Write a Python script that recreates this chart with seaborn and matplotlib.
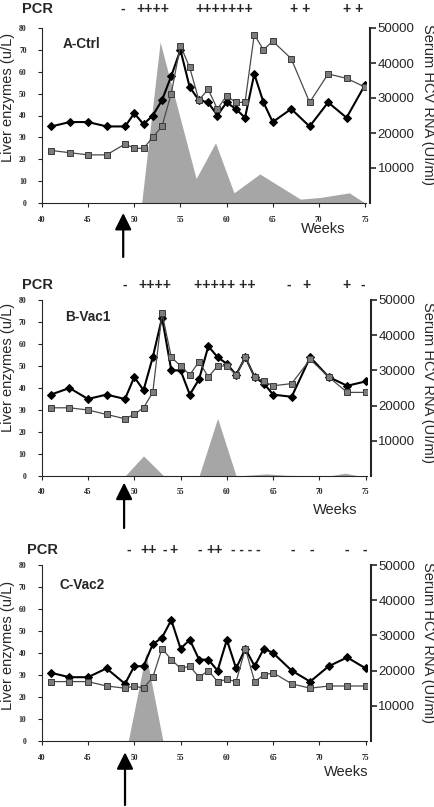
import matplotlib
matplotlib.use("Agg")
import matplotlib.pyplot as plt
import seaborn as sns

# ---------------- data ----------------
weeks = [41, 43, 45, 47, 49, 50, 51, 52, 53, 54, 55, 56, 57, 58, 59, 60, 61, 62, 63, 64, 65, 67, 69, 71, 73, 75]

a_diamond = [35, 37, 37, 35, 35, 41, 36, 40, 47, 58, 70, 53, 47, 46, 40, 46, 43, 39, 59, 46, 37, 43, 35, 46, 39, 54]
a_square = [24, 23, 22, 22, 27, 25, 25, 30, 35, 50, 72, 62, 47, 52, 43, 49, 46, 46, 77, 70, 74, 66, 46, 59, 57, 53]
a_rna_weeks = [50.8, 52.8, 56.7, 58.8, 60.8, 63.6, 68.0, 70.2, 73.3, 75.0]
a_rna = [0, 46000, 7000, 17200, 2900, 8300, 1100, 1600, 2900, 0]
a_pcr = [(48.7, "-"), (52.0, "++++"), (59.8, "+++++++"), (68.0, "+ +"), (73.7, "+ +")]

b_diamond = [37, 40, 35, 37, 35, 45, 39, 54, 72, 48, 48, 37, 44, 59, 54, 51, 46, 54, 45, 42, 37, 36, 54, 45, 41, 43]
b_square = [31, 31, 30, 28, 26, 28, 31, 38, 74, 54, 50, 46, 52, 45, 50, 50, 46, 54, 45, 43, 41, 42, 53, 45, 38, 38]
b_rna_weeks = [49.0, 51.0, 53.2, 57.0, 59.0, 61.0, 64.3, 66.5, 71.0, 72.8, 74.3]
b_rna = [0, 5700, 0, 0, 16400, 0, 600, 200, 0, 800, 0]
b_pcr = [(49.0, "-"), (52.2, "++++"), (59.8, "+++++ ++"), (66.7, "-"), (68.6, "+"), (72.9, "+"), (74.7, "-")]

c_diamond = [31, 29, 29, 33, 26, 34, 34, 44, 47, 55, 42, 46, 37, 37, 32, 46, 33, 42, 34, 42, 40, 32, 27, 34, 38, 33]
c_square = [27, 27, 27, 25, 24, 25, 24, 29, 42, 37, 33, 34, 29, 32, 27, 28, 27, 42, 27, 30, 31, 26, 24, 25, 25, 25]
c_rna_weeks = [49.35, 51.25, 53.1]
c_rna = [0, 24900, 0]
c_pcr = [(49.4, "-"), (51.6, "++"), (53.3, "-"), (54.2, "+"), (57.1, "-"), (58.7, "++"),
         (62.1, "- - - -"), (67.1, "-"), (69.2, "-"), (72.9, "-"), (74.9, "-")]

panel_names = ["A-Ctrl", "B-Vac1", "C-Vac2"]
left_ticks = [0, 10, 20, 30, 40, 50, 60, 70, 80]
right_ticks = [10000, 20000, 30000, 40000, 50000]
x_ticks = [40, 45, 50, 55, 60, 65, 70, 75]
arrow_week = [48.8, 48.9, 49.0]

# ---------------- style ----------------
sns.set_style("ticks")
plt.rcParams['font.family'] = ['Liberation Sans', 'DejaVu Sans']

W, H = 435, 807
fig = plt.figure(figsize=(W / 100, H / 100), dpi=100)


def fx(x):
    return x / W


def fy(y):
    return 1 - y / H


# layout in pixels: (left, top, right, bottom)
boxes = [(42, 28, 366.4, 203), (41.7, 300, 367.1, 476), (41.7, 565, 367.1, 741)]
# text anchors in pixels
pcr_pos = [(22, 9), (22, 285), (27, 550)]
name_pos = [(63, 44), (65, 317), (60, 585)]
weeks_pos = [(323, 229), (335, 510), (346, 772)]
ylab_pos = [(8.5, 97), (8.5, 367), (8.5, 645)]
rlab_pos = [(428, 104), (428, 382), (428, 642)]
arrow_px = [(213, 257), (482.7, 528), (752.3, 805)]

panels = [
    (a_diamond, a_square, a_rna_weeks, a_rna, a_pcr),
    (b_diamond, b_square, b_rna_weeks, b_rna, b_pcr),
    (c_diamond, c_square, c_rna_weeks, c_rna, c_pcr),
]

for i, (dia, sq, rw, rv, pcr) in enumerate(panels):
    l, t, r, b = boxes[i]
    rect = [fx(l), fy(b), fx(r) - fx(l), fy(t) - fy(b)]
    ax = fig.add_axes(rect)
    ax2 = ax.twinx()

    # area (serum HCV RNA)
    ax2.fill_between(rw, rv, 0, color="#a6a6a6", linewidth=0)
    ax2.set_ylim(0, 50000)
    ax2.set_yticks(right_ticks)
    ax2.set_yticklabels([str(v) for v in right_ticks])
    for s in ["top", "left", "bottom"]:
        ax2.spines[s].set_visible(False)
    ax2.spines["right"].set_linewidth(1.5)
    ax2.spines["right"].set_position(("outward", 2.5))
    ax2.tick_params(axis="y", direction="out", length=4.5, width=1.2, pad=1, labelsize=9.5)

    # lines
    ax.set_zorder(ax2.get_zorder() + 1)
    ax.patch.set_visible(False)
    sns.lineplot(x=weeks, y=dia, ax=ax, color="black", linewidth=1.5, marker="D",
                 markersize=4.2, markerfacecolor="black", markeredgecolor="black")
    sns.lineplot(x=weeks, y=sq, ax=ax, color="#4a4a4a", linewidth=0.9, marker="s",
                 markersize=4.2, markerfacecolor="#7c7c7c", markeredgecolor="#3a3a3a",
                 markeredgewidth=0.7)

    ax.set_xlim(40, 75.15)
    ax2.set_xlim(40, 75.15)
    ax.set_ylim(0, 80)
    ax.set_xticks(x_ticks)
    ax.set_yticks(left_ticks)
    ax.set_xticklabels([str(v) for v in x_ticks])
    ax.set_yticklabels([str(v) for v in left_ticks])
    ax.set_xlabel("")
    ax.set_ylabel("")
    for s in ["top", "right"]:
        ax.spines[s].set_visible(False)
    for s in ["left", "bottom"]:
        ax.spines[s].set_linewidth(0.8)
    ax.tick_params(axis="y", direction="out", length=3, width=0.8, pad=8)
    ax.tick_params(axis="x", direction="out", length=3, width=0.8, pad=6)
    for lbl in ax.get_xticklabels() + ax.get_yticklabels():
        lbl.set_fontfamily(["Liberation Serif", "DejaVu Serif"])
        lbl.set_fontweight("bold")
        lbl.set_fontsize(5.5)

    # texts
    fig.text(fx(pcr_pos[i][0]), fy(pcr_pos[i][1]), "PCR", fontsize=10.5, fontweight="bold",
             ha="left", va="center")
    ytxt = fy(pcr_pos[i][1])
    for wk, s in pcr:
        ax.text(wk, ytxt, s, transform=ax.get_xaxis_transform() if False else
                __import__("matplotlib").transforms.blended_transform_factory(ax.transData, fig.transFigure),
                fontsize=10, fontweight="bold", ha="center", va="center")
    fig.text(fx(name_pos[i][0]), fy(name_pos[i][1]), panel_names[i], fontsize=9.8,
             fontweight="bold", ha="left", va="center")
    fig.text(fx(weeks_pos[i][0]), fy(weeks_pos[i][1]), "Weeks", fontsize=10.5,
             ha="center", va="center")
    fig.text(fx(ylab_pos[i][0]), fy(ylab_pos[i][1]), "Liver enzymes (u/L)", fontsize=10.5,
             rotation=90, ha="center", va="center")
    fig.text(fx(rlab_pos[i][0]), fy(rlab_pos[i][1]), "Serum HCV RNA (UI/ml)", fontsize=10.5,
             rotation=270, ha="center", va="center")

    # arrow marking vaccination/challenge time
    tip, tail = arrow_px[i]
    hh = b - t
    ax.annotate("", xy=(arrow_week[i], (b - tip) / hh), xytext=(arrow_week[i], (b - tail) / hh),
                xycoords=("data", "axes fraction"), textcoords=("data", "axes fraction"),
                arrowprops=dict(arrowstyle="-|>,head_length=1.0,head_width=0.5",
                                mutation_scale=10, color="black", lw=1.6,
                                shrinkA=0, shrinkB=0),
                annotation_clip=False)

fig.savefig("out.png", dpi=100)
